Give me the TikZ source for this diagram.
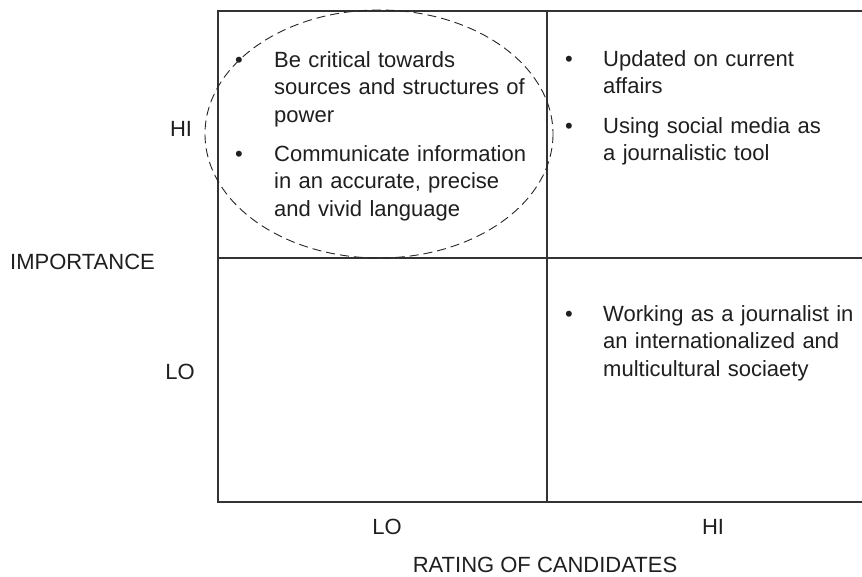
\documentclass[tikz,border=0pt]{standalone}
\usepackage{fontspec}
\setmainfont{Liberation Sans}
\begin{document}
\begin{tikzpicture}[x=1pt,y=-1pt,
  grid/.style={draw=black!80,line width=1.2pt},
  ring/.style={draw=black!85,line width=0.9pt,dash pattern=on 9pt off 5pt},
  txt/.style={text=black!88,font=\fontsize{22}{27.5}\selectfont,inner sep=0pt},
  item/.style={txt,anchor=north west,text width=300pt,align=left},
  dot/.style={txt,anchor=base},
  lbl/.style={txt,anchor=center}]
\useasboundingbox (0,0) rectangle (862,576);
\fill[white] (0,0) rectangle (862,576);

% frame and quadrant lines
\coordinate (tl) at (218,11);
\coordinate (bl) at (218,502);
\coordinate (tr) at (862,11);
\coordinate (br) at (862,502);
\coordinate (mt) at (547,11);
\coordinate (mb) at (547,502);
\coordinate (ml) at (218,258);
\coordinate (mr) at (862,258);
\draw[grid] (tr) -- (tl) -- (bl) -- (br);
\draw[grid] (mt) -- (mb);
\draw[grid] (ml) -- (mr);

% high importance / low rating
\node[dot] (d1) at (239,67) {•};
\node[item] (i1) at (274,47.75) {\strut Be critical towards\\ sources and structures of\\ power};
\node[dot] (d2) at (239,161) {•};
\node[item] (i2) at (274,141.75) {\strut Communicate information\\ in an accurate, precise\\ and vivid language};

% high importance / high rating
\node[dot] (d3) at (569,66) {•};
\node[item] (i3) at (603,46.75) {\strut Updated on current\\ affairs};
\node[dot] (d4) at (569,133) {•};
\node[item] (i4) at (603,113.75) {\strut Using social media as\\ a journalistic tool};

% low importance / high rating
\node[dot] (d5) at (569,321) {•};
\node[item] (i5) at (603,301.75) {\strut Working as a journalist in\\ an internationalized and\\ multicultural sociaety};

% highlighted cell
\draw[ring] (379,134) ellipse [x radius=174, y radius=124];

% axis labels
\node[lbl] (yhi) at (181,129) {HI};
\node[lbl] (ylo) at (180,372) {LO};
\node[txt,anchor=west] (yax) at (10,262) {IMPORTANCE};
\node[lbl] (xlo) at (387,527) {LO};
\node[lbl] (xhi) at (713,527) {HI};
\node[lbl] (xax) at (545,565) {RATING OF CANDIDATES};
\end{tikzpicture}
\end{document}
